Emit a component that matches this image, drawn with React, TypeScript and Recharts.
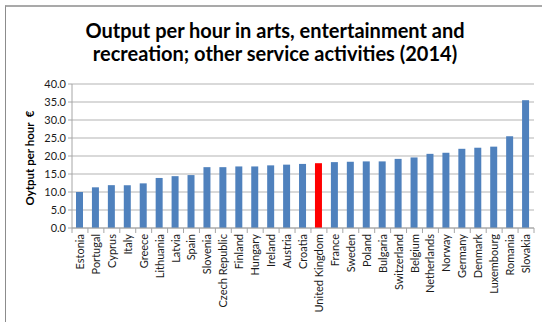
import React from "react";
import { BarChart, Bar, XAxis, YAxis, CartesianGrid, Cell } from "recharts";

const countries = [
  "Estonia", "Portugal", "Cyprus", "Italy", "Greece", "Lithuania", "Latvia", "Spain",
  "Slovenia", "Czech Republic", "Finland", "Hungary", "Ireland", "Austria", "Croatia",
  "United Kingdom", "France", "Sweden", "Poland", "Bulgaria", "Switzerland", "Belgium",
  "Netherlands", "Norway", "Germany", "Denmark", "Luxembourg", "Romania", "Slovakia",
];

const outputPerHour = [
  10.0, 11.3, 11.9, 11.9, 12.4, 13.9, 14.4, 14.7,
  16.9, 16.9, 17.1, 17.1, 17.4, 17.6, 17.8,
  18.0, 18.3, 18.4, 18.5, 18.5, 19.2, 19.6,
  20.6, 20.9, 22.0, 22.3, 22.6, 25.5, 35.5,
];

const yTicks = [0, 5, 10, 15, 20, 25, 30, 35, 40];
const highlighted = "United Kingdom";

const data = countries.map((country, i) => ({ country, value: outputPerHour[i] }));

const FONT = "Lato, 'Open Sans', sans-serif";
const W = 542;
const H = 322;
const MARGIN = { top: 84, right: 8, bottom: 4, left: 0 };
const Y_AXIS_W = 72;
const X_AXIS_H = 90;
const plotWidth = W - MARGIN.left - MARGIN.right - Y_AXIS_W;
const step = plotWidth / countries.length;
const axisY = H - MARGIN.bottom - X_AXIS_H;

// Category labels with tick marks placed between categories
const CategoryTick = (props: any) => {
  const { x, payload, index } = props;
  const left = x - step / 2;
  return (
    <g>
      <line x1={left} y1={axisY} x2={left} y2={axisY + 5} stroke="#a6a6a6" />
      {index === countries.length - 1 && (
        <line x1={left + step} y1={axisY} x2={left + step} y2={axisY + 5} stroke="#a6a6a6" />
      )}
      <text
        x={x + 4}
        y={axisY + 6}
        transform={`rotate(-90, ${x + 4}, ${axisY + 6})`}
        textAnchor="end"
        fontSize={11}
        fontFamily={FONT}
        fill="#1a1a1a"
      >
        {payload.value}
      </text>
    </g>
  );
};

export default function App() {
  return (
    <div style={{ position: "absolute", left: 0, top: 0, width: W, height: H, background: "#fff", overflow: "hidden" }}>
      <div
        style={{
          position: "absolute",
          left: 5,
          top: 5,
          width: W,
          height: H,
          borderTop: "2px solid #a9a9a9",
          borderLeft: "1px solid #8c8c8c",
        }}
      />
      <div
        style={{
          position: "absolute",
          left: 0,
          top: 19,
          width: 550,
          textAlign: "center",
          fontFamily: FONT,
          fontWeight: 700,
          fontSize: 20,
          lineHeight: "23px",
          color: "#000",
        }}
      >
        Output per hour in arts, entertainment and
        <br />
        recreation; other service activities (2014)
      </div>
      <div style={{ position: "absolute", left: 0, top: 0 }}>
        <BarChart width={W} height={H} data={data} margin={MARGIN} barSize={7}>
          <CartesianGrid vertical={false} stroke="#b3b3b3" strokeWidth={1} />
          <XAxis
            dataKey="country"
            interval={0}
            height={X_AXIS_H}
            stroke="#a6a6a6"
            tickLine={false}
            tick={<CategoryTick />}
          />
          <YAxis
            width={Y_AXIS_W}
            domain={[0, 40]}
            ticks={yTicks}
            interval={0}
            stroke="#a6a6a6"
            tickSize={4}
            tickFormatter={(v: number) => v.toFixed(1)}
            tick={{ fontSize: 11, fontFamily: FONT, fill: "#1a1a1a" }}
            label={{
              value: "Oytput per hour\u00a0\u00a0€",
              angle: -90,
              position: "insideLeft",
              dx: 25,
              dy: 2,
              style: { fontSize: 11.5, fontWeight: 700, fontFamily: FONT, fill: "#000", textAnchor: "middle" },
            }}
          />
          <Bar dataKey="value" isAnimationActive={false}>
            {data.map((d) => (
              <Cell key={d.country} fill={d.country === highlighted ? "#FF0000" : "#4F81BD"} />
            ))}
          </Bar>
        </BarChart>
      </div>
    </div>
  );
}
